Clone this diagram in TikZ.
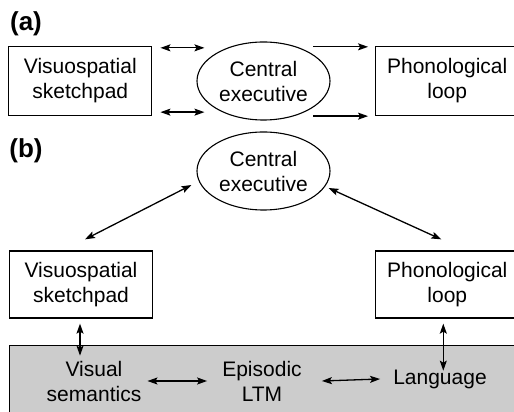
\documentclass[tikz,border=0pt]{standalone}
\usepackage{fontspec}
\setmainfont{Liberation Sans}
\usepackage{tikz}
\usetikzlibrary{positioning,arrows.meta,shapes.geometric}

\begin{document}
\begin{tikzpicture}[x=1pt, y=1pt, font=\fontsize{21}{25}\selectfont,
		store/.style={draw, line width=1.3pt, minimum width=143pt, minimum height=69pt, inner sep=0pt, align=center},
		exec/.style={draw, ellipse, line width=1.1pt, minimum width=133pt, minimum height=78pt, inner sep=0pt, align=center},
		part/.style={font=\fontsize{26}{30}\selectfont\bfseries},
		ltmtext/.style={inner sep=0pt, align=center},
		dbl/.style={line width=1.3pt, {Stealth[length=10pt,width=7pt,inset=2pt]}-{Stealth[length=10pt,width=7pt,inset=2pt]}},
		sgl/.style={line width=1.3pt, -{Stealth[length=10pt,width=7pt,inset=2pt]}}]
		\useasboundingbox (0,0) rectangle (514,412);
		% (a)
		\node[part] (parta) at (26,388) {(a)};
		\node[exec] (cea) at (263.5,331) {Central\\executive};
		\node[store, left=44pt of cea] (vsa) {Visuospatial\\sketchpad};
		\node[store, right=44.5pt of cea] (pla) {Phonological\\loop};
		\draw[dbl] ([shift={(8pt,-2pt)}]vsa.north east) -- +(44pt,0);
		\draw[dbl] ([shift={(8pt,4pt)}]vsa.south east) -- +(44pt,0);
		\draw[sgl] ([shift={(-62pt,-1pt)}]pla.north west) -- ([shift={(-7pt,-1pt)}]pla.north west);
		\draw[sgl] ([xshift=-62pt]pla.south west) -- ([xshift=-7pt]pla.south west);
		% (b)
		\node[part] (partb) at (26,261) {(b)};
		\node[exec] (ceb) at (263.5,241) {Central\\executive};
		\node[store, minimum height=67pt] (vsb) at (81,127.5) {Visuospatial\\sketchpad};
		\node[store, minimum height=67pt, right=222pt of vsb] (plb) {Phonological\\loop};
		\node[draw, line width=1.3pt, fill=black!20, anchor=north west, minimum width=512pt, minimum height=75pt] (ltm) at (9,67) {};
		\node[ltmtext] (vissem) at (94,31) {Visual\\semantics};
		\node[ltmtext] (epi) at (262,31) {Episodic\\LTM};
		\node[ltmtext] (lang) at (440,33) {Language};
		\draw[dbl] ([shift={(4pt,11pt)}]vsb.north) -- ([shift={(-5pt,-14pt)}]ceb.west);
		\draw[dbl] ([shift={(-6pt,11pt)}]plb.north) -- ([shift={(-2pt,-17pt)}]ceb.east);
		\draw[dbl] ([shift={(-1pt,-5pt)}]vsb.south) -- +(0,-32pt);
		\draw[dbl] ([shift={(-4pt,-5pt)}]plb.south) -- +(0,-47pt);
		\draw[dbl] ([xshift=6pt]vissem.east) -- ([xshift=-15pt]epi.west);
		\draw[dbl] ([xshift=20pt]epi.east) -- ([xshift=-13pt]lang.west);
	\end{tikzpicture}
\end{document}
